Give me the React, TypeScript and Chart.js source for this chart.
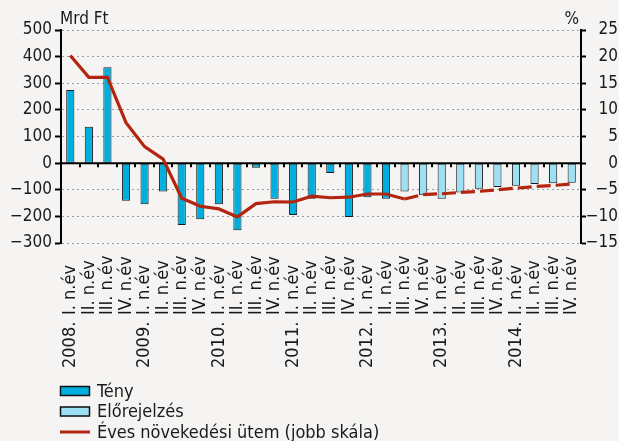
import React, { useEffect, useRef } from 'react';
import { Chart, registerables } from 'chart.js';

Chart.register(...registerables);

// ---- data ----
const years = ['2008.', '2009.', '2010.', '2011.', '2012.', '2013.', '2014.'];
const quarters = ['I. n.év', 'II. n.év', 'III. n.év', 'IV. n.év'];

// Mrd Ft (left scale) – actual values 2008 Q1 .. 2012 Q2
const actualValues = [275, 137, 360, -141, -154, -107, -232, -211, -154, -252, -17, -134, -195, -134, -37, -202, -128, -134];
// Mrd Ft – forecast 2012 Q3 .. 2014 Q4
const forecastValues = [-107, -121, -134, -110, -96, -90, -85, -78, -76, -74];
// % (right scale) – annual growth rate
const growthRate = [20.2, 16.1, 16.1, 7.6, 3.1, 0.75, -6.6, -8.1, -8.6, -10.1, -7.6, -7.25, -7.3, -6.2, -6.5, -6.4, -5.8, -5.8, -6.75, -5.9, -5.75, -5.5, -5.3, -5.0, -4.7, -4.4, -4.2, -3.9];

const leftUnit = 'Mrd Ft';
const rightUnit = '%';
const seriesNames = ['Tény', 'Előrejelzés', 'Éves növekedési ütem (jobb skála)'];

// ---- derived ----
const categories = years.flatMap((y) => quarters.map((q) => `${y} ${q}`));
const nActual = actualValues.length;
const actualData = categories.map((_, i) => (i < nActual ? actualValues[i] : null));
const forecastData = categories.map((_, i) => (i >= nActual ? forecastValues[i - nActual] : null));
const dashFrom = nActual; // growth line dashed from the first forecast quarter

// ---- style ----
const BG = '#f5f4f2';
const FONT = '"DejaVu Sans Condensed", "DejaVu Sans", sans-serif';
const TEXT = '#1a1a1a';
const C_ACTUAL = '#00afdd';
const C_FORECAST = '#9ddff3';
const C_LINE = '#b4250f';
const W = 619;
const H = 441;
const PLOT_BOTTOM = 243;

const fmt = (v: number) => (v < 0 ? '\u2212' + Math.abs(v) : String(v));

const decor = {
  id: 'decor',
  beforeDatasetsDraw(chart: any) {
    const { ctx, chartArea, scales } = chart;
    const xs = scales.x;
    const y0 = scales.y.getPixelForValue(0);
    ctx.save();
    ctx.strokeStyle = '#000';
    ctx.lineWidth = 2;
    ctx.beginPath();
    ctx.moveTo(chartArea.left, y0);
    ctx.lineTo(chartArea.right, y0);
    ctx.stroke();
    for (let i = 1; i < categories.length; i++) {
      const px = Math.round(xs.getPixelForValue(i - 0.5));
      ctx.beginPath();
      ctx.moveTo(px, y0);
      ctx.lineTo(px, y0 + 4);
      ctx.stroke();
    }
    ctx.restore();
  },
  afterDraw(chart: any) {
    const { ctx, chartArea, scales } = chart;
    const xs = scales.x;
    ctx.save();
    ctx.fillStyle = TEXT;
    // units
    ctx.font = `17px ${FONT}`;
    ctx.textBaseline = 'middle';
    ctx.textAlign = 'left';
    ctx.fillText(leftUnit, chartArea.left - 1, 20);
    ctx.textAlign = 'right';
    ctx.fillText(rightUnit, chartArea.right - 2, 20);

    // category labels (rotated, start-aligned at bottom)
    ctx.font = `18px ${FONT}`;
    ctx.textAlign = 'left';
    ctx.textBaseline = 'middle';
    categories.forEach((_, i) => {
      const px = xs.getPixelForValue(i);
      ctx.save();
      ctx.translate(px, 315);
      ctx.rotate(-Math.PI / 2);
      ctx.fillText(quarters[i % quarters.length], 0, 0);
      ctx.restore();
      if (i % quarters.length === 0) {
        ctx.save();
        ctx.translate(px, 368);
        ctx.rotate(-Math.PI / 2);
        ctx.fillText(years[i / quarters.length], 0, 0);
        ctx.restore();
      }
    });

    // legend
    const rows = [391, 411.5, 432];
    ctx.font = `18px ${FONT}`;
    ctx.textAlign = 'left';
    ctx.textBaseline = 'middle';
    const ds = chart.data.datasets;
    [0, 1].forEach((k) => {
      const cy = rows[k];
      ctx.fillStyle = ds[k].backgroundColor;
      ctx.fillRect(60, cy - 5, 30, 10);
      ctx.strokeStyle = '#111';
      ctx.lineWidth = 1.5;
      ctx.strokeRect(60.5, cy - 4.5, 29, 9);
      ctx.fillStyle = TEXT;
      ctx.fillText(ds[k].label, 97, cy + 1);
    });
    ctx.strokeStyle = ds[2].borderColor;
    ctx.lineWidth = 3;
    ctx.beginPath();
    ctx.moveTo(60, rows[2]);
    ctx.lineTo(90, rows[2]);
    ctx.stroke();
    ctx.fillStyle = TEXT;
    ctx.fillText(ds[2].label, 97, rows[2] + 1);
    ctx.restore();
  },
};

export default function App() {
  const ref = useRef<HTMLCanvasElement>(null);
  useEffect(() => {
    document.body.style.margin = '0';
    document.body.style.background = BG;
    const chart = new Chart(ref.current as HTMLCanvasElement, {
      type: 'bar',
      data: {
        labels: categories,
        datasets: [
          {
            type: 'bar',
            label: seriesNames[0],
            data: actualData,
            backgroundColor: C_ACTUAL,
            borderColor: '#1a1a1a',
            borderWidth: 1,
            borderSkipped: false,
            barPercentage: 0.44,
            categoryPercentage: 1,
            grouped: false,
            yAxisID: 'y',
            order: 2,
          },
          {
            type: 'bar',
            label: seriesNames[1],
            data: forecastData,
            backgroundColor: C_FORECAST,
            borderColor: '#1a1a1a',
            borderWidth: 1,
            borderSkipped: false,
            barPercentage: 0.44,
            categoryPercentage: 1,
            grouped: false,
            yAxisID: 'y',
            order: 2,
          },
          {
            type: 'line',
            label: seriesNames[2],
            data: growthRate,
            borderColor: C_LINE,
            backgroundColor: C_LINE,
            borderWidth: 3.2,
            pointRadius: 0,
            tension: 0,
            yAxisID: 'y1',
            order: 0,
            segment: {
              borderDash: (c: any) => (c.p0DataIndex >= dashFrom ? [14, 5] : undefined),
            },
          },
        ] as any,
      },
      options: {
        responsive: false,
        animation: false,
        devicePixelRatio: 1,
        layout: { padding: { top: 30, right: 1, left: 0, bottom: 0 } },
        plugins: { legend: { display: false }, tooltip: { enabled: false } },
        scales: {
          x: {
            type: 'category',
            offset: true,
            grid: { display: false },
            border: { display: false },
            ticks: { display: false },
            afterFit: (s: any) => {
              s.height = H - PLOT_BOTTOM;
            },
          },
          y: {
            position: 'left',
            min: -300,
            max: 500,
            afterFit: (s: any) => {
              s.width = 61;
            },
            ticks: {
              stepSize: 100,
              color: TEXT,
              padding: 3,
              font: { family: FONT, size: 17 },
              callback: (v: any) => fmt(Number(v)),
            },
            grid: { color: '#9b9b9b', lineWidth: 1, tickColor: '#000', tickLength: 6, tickWidth: 2 },
            border: { display: true, color: '#000', width: 2, dash: [2, 3] },
          },
          y1: {
            position: 'right',
            min: -15,
            max: 25,
            afterFit: (s: any) => {
              s.width = 37;
            },
            ticks: {
              stepSize: 5,
              color: TEXT,
              padding: 3,
              crossAlign: 'far',
              font: { family: FONT, size: 17 },
              callback: (v: any) => fmt(Number(v)),
            },
            grid: { drawOnChartArea: false, tickColor: '#000', tickLength: 5, tickWidth: 2 },
            border: { display: true, color: '#000', width: 2 },
          },
        },
      } as any,
      plugins: [decor],
    });
    return () => chart.destroy();
  }, []);
  return (
    <div style={{ width: W, height: H, background: BG }}>
      <canvas ref={ref} width={W} height={H} style={{ display: 'block', width: W, height: H }} />
    </div>
  );
}
